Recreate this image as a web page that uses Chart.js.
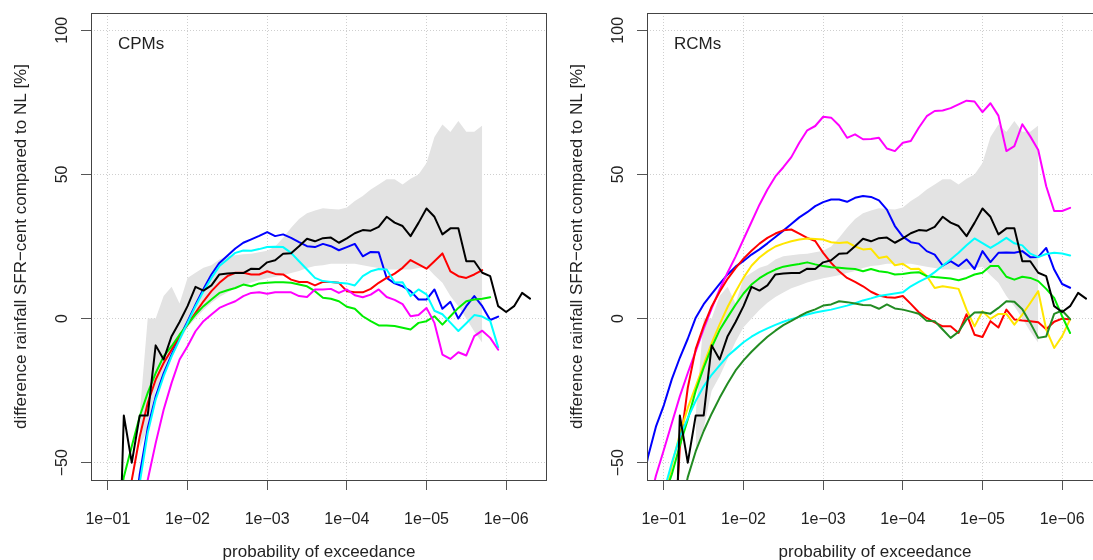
<!DOCTYPE html>
<html>
<head>
<meta charset="utf-8">
<script src="https://cdn.jsdelivr.net/npm/chart.js@4.4.1/dist/chart.umd.min.js"></script>
<style>
    html, body { margin: 0; padding: 0; background: #fff; overflow: hidden; width: 1093px; height: 560px; }
    .panel { position: absolute; top: 0; width: 560px; height: 560px; }
    #leftPanel { left: 0; }
    #rightPanel { left: 556px; }
</style>
</head>
<body>
<div class="panel" id="leftPanel"><canvas id="cpmChart" width="560" height="560"></canvas></div>
<div class="panel" id="rightPanel"><canvas id="rcmChart" width="560" height="560"></canvas></div>
<script>
// --- Data (values in %, x = log10 of probability of exceedance) ---

const logP = [
    -0.7, -0.8, -0.9,
    -1.0, -1.1, -1.2, -1.3, -1.4, -1.5, -1.6, -1.7, -1.8, -1.9,
    -2.0, -2.1, -2.2, -2.3, -2.4, -2.5, -2.6, -2.7, -2.8, -2.9,
    -3.0, -3.1, -3.2, -3.3, -3.4, -3.5, -3.6, -3.7, -3.8, -3.9,
    -4.0, -4.1, -4.2, -4.3, -4.4, -4.5, -4.6, -4.7, -4.8, -4.9,
    -5.0, -5.1, -5.2, -5.3, -5.4, -5.5, -5.6, -5.7, -5.8, -5.9,
    -6.0, -6.1, -6.2, -6.3
];

const xTickVals = [1e-1, 1e-2, 1e-3, 1e-4, 1e-5, 1e-6];
const xTickLabels = ['1e\u221201', '1e\u221202', '1e\u221203', '1e\u221204', '1e\u221205', '1e\u221206'];
const yTickVals = [-50, 0, 50, 100];
const yTickLabels = ['\u221250', '0', '50', '100'];

const xTitle = 'probability of exceedance';
const yTitle = 'difference rainfall SFR\u2212cent compared to NL [%]';

// observations (same in both panels)
const obsBlack = [
    null, null, null,
    null, -125, -33.6, -50, -33.6, -33.6, -9.3, -14.2, -6.1, -1.2,
    4.3, 11.0, 9.7, 11.5, 15.3, 15.6, 15.8, 15.8, 17.3, 17.2,
    19.5, 20.2, 22.5, 22.7, 25.1, 27.7, 26.8, 27.9, 28.1, 26.3,
    27.8, 29.6, 30.7, 30.5, 31.8, 35.3, 33.3, 32.1, 28.6, 33.2,
    38.2, 35.3, 29.2, 31.3, 31.3, 19.9, 19.9, 15.9, 14.7, 4.3,
    2.3, 4.3, 8.9, 6.9
];
const bandHigh = [
    null, null, null,
    null, null, null, null, -33, 0, 0, 7.8, 11.0, 5.2,
    14.1, 15.9, 17.6, 18.5, 20.5, 21.6, 22.0, 22.3, 22.5, 23.0,
    23.5, 25.0, 28.0, 31.5, 34.5, 36.5, 37.5, 38.3, 38.0, 37.8,
    38.5, 40.8, 42.5, 44.8, 46.5, 48.3, 48.3, 46.5, 48.5, 50.0,
    54.0, 63.0, 67.3, 64.7, 68.5, 64.8, 64.8, 67.0, null, null,
    null, null, null, null
];
const bandLow = [
    null, null, null,
    null, null, null, null, -45, -38, -25, -20, -14, -8,
    -3, 0, 3, 5.5, 7.5, 9, 10.5, 11.5, 12.5, 13.3,
    14, 14.5, 15, 15.8, 16.5, 17.5, 18.2, 18.5, 19, 19,
    19, 19, 18.5, 18, 17.5, 17, 17, 17, 17, 17.5,
    18, 15, 12.4, 7.8, 4.3, 0, -4.5, -8.4, null, null,
    null, null, null, null
];

// CPMs
const cpmBlue = [
    null, null, null,
    null, null, null, -75, -54, -38, -27, -19, -12.5, -6.5,
    -1, 4.8, 10.3, 15.3, 19.3, 21.8, 24.3, 26.3, 27.5, 28.7,
    30.0, 28.6, 29.2, 28.0, 26.5, 25.1, 24.8, 25.9, 25.1, 23.7,
    24.8, 25.9, 21.6, 23.1, 23.0, 14.1, 12.2, 11.2, 9.5, 6.6,
    6.6, 10.1, 3.4, 5.8, 0.0, 4.3, 7.8, 4.3, -0.5, 0.7,
    null, null, null, null
];
const cpmRed = [
    null, null, null,
    null, null, -78, -56, -40.9, -29.3, -21.2, -15.4, -10.8, -6.1,
    -2.1, 2.0, 6.0, 9.5, 12.4, 14.7, 15.9, 15.9, 15.3, 15.3,
    16.4, 15.5, 15.3, 13.5, 12.7, 12.7, 11.5, 12.7, 12.7, 12.4,
    9.5, 9.1, 9.1, 10.3, 12.4, 14.1, 15.6, 17.6, 20.3, 18.8,
    17.3, 19.9, 22.6, 16.4, 14.7, 14.1, 15.3, 16.8, null, null,
    null, null, null, null
];
const cpmGreen = [
    null, null, null,
    null, -70, -55, -44.3, -33.9, -25.8, -18.9, -13.1, -9.6, -5.6,
    -2.1, 1.4, 4.3, 6.6, 8.9, 9.8, 10.6, 11.8, 11.2, 12.2,
    12.4, 12.6, 12.6, 12.4, 11.8, 11.2, 9.5, 7.2, 6.9, 6.0,
    4.1, 3.4, 0.8, -0.9, -2.4, -2.4, -2.6, -3.2, -3.8, -1.5,
    -0.9, 0.8, -2.1, 0.8, 3.7, 6.0, 6.6, 6.9, 7.4, null,
    null, null, null, null
];
const cpmCyan = [
    null, null, null,
    null, null, null, -80, -57, -39.7, -28.1, -20.0, -13.1, -7.3,
    -1.5, 4.3, 9.5, 14.1, 18.2, 20.5, 22.8, 23.6, 23.5, 24.1,
    24.8, 24.9, 24.8, 22.8, 19.9, 17.0, 14.1, 13.0, 12.7, 12.4,
    12.2, 11.5, 14.7, 16.4, 17.2, 17.0, 12.5, 12.6, 7.8, 10.1,
    8.4, 2.7, 1.5, -1.4, -4.3, -1.6, 1.2, 0.7, -0.8, -10.0,
    null, null, null, null
];
const cpmMagenta = [
    null, null, null,
    null, null, null, null, -80, -56, -43.2, -31.6, -22.3, -14.2,
    -9.6, -4.4, -0.9, 1.4, 3.7, 4.9, 6.0, 7.8, 8.9, 9.1,
    8.6, 9.1, 9.1, 9.1, 7.8, 7.5, 10.1, 10.1, 10.3, 8.9,
    10.1, 8.1, 7.4, 8.3, 10.1, 7.5, 6.5, 5.0, 0.8, 1.2,
    3.7, -1.5, -12.5, -14.0, -11.7, -12.8, -6.1, -4.2, -6.7, -10.8,
    null, null, null, null
];

// RCMs
const rcmBlue = [
    -62, -48, -37.5,
    -30, -21, -13.6, -7, 0.3, 5.0, 8.6, 12.0, 15.3, 18.0,
    20.0, 22.2, 24.0, 26.1, 28.3, 30.5, 32.8, 35.1, 36.9, 39.0,
    40.4, 41.3, 41.3, 40.5, 41.9, 42.5, 42.2, 41.0, 37.8, 32.1,
    28.4, 26.5, 26.0, 23.4, 22.2, 18.4, 19.9, 18.2, 20.5, 17.2,
    23.4, 19.6, 22.8, 22.9, 22.8, 23.4, 21.3, 21.4, 24.5, 17.0,
    12.0, 10.7, null, null
];
const rcmMagenta = [
    null, -66, -54.5,
    -45.5, -36.2, -27.0, -18.9, -11.3, -3.5, 3.5, 10.1, 16.0, 21.5,
    27.5, 33.5, 39.5, 44.8, 49.3, 52.5, 56.0, 61.0, 65.3, 66.8,
    70.0, 69.7, 67.0, 62.7, 63.9, 62.2, 62.3, 62.7, 59.0, 58.1,
    61.0, 61.6, 66.2, 70.2, 72.0, 72.2, 73.0, 74.3, 75.6, 75.3,
    71.6, 74.7, 70.4, 58.1, 59.8, 67.4, 63.2, 58.5, 45.9, 37.3,
    37.3, 38.4, null, null
];
const rcmRed = [
    null, null, null,
    null, -90, -45, -24, -10.5, -2.5, 4.2, 9.3, 13.8, 17.5,
    20.8, 23.5, 26.0, 28.0, 29.5, 30.6, 30.9, 29.5, 28.0, 26.9,
    22.8, 19.3, 16.4, 14.1, 12.7, 11.2, 9.3, 8.0, 7.4, 7.2,
    7.8, 5.1, 2.2, 0.2, -1.3, -2.7, -2.7, -5.0, 1.5, -5.6,
    -6.4, -0.9, -3.1, 3.1, -0.3, -0.7, -0.9, -1.3, -3.7, -1.1,
    0.0, -0.3, null, null
];
const rcmYellow = [
    null, null, null,
    -64, -51, -40, -31, -23.5, -16, -8.5, -2, 4, 9.3,
    14.2, 18.3, 21.2, 23.3, 25.0, 26.0, 26.8, 27.4, 27.8, 27.6,
    27.4, 26.5, 26.2, 26.5, 25.0, 24.0, 24.2, 21.0, 21.5, 18.5,
    19.0, 17.2, 17.3, 14.8, 10.6, 11.2, 10.8, 10.3, 3.1, -2.7,
    2.5, -0.1, 1.6, 1.6, -2.1, 1.4, 5.4, 9.5, -3.8, -10.2,
    -6.1, -0.3, null, null
];
const rcmGreen = [
    null, null, null,
    -62, -54, -44, -35, -25, -17, -10, -4, 0.5, 4.8,
    8.7, 11.8, 14.0, 15.7, 17.0, 18.0, 18.5, 18.9, 19.5, 18.8,
    18.2, 17.8, 17.6, 17.4, 17.2, 16.4, 17.2, 16.4, 16.1, 15.3,
    15.5, 15.9, 16.1, 14.7, 14.4, 14.2, 13.9, 13.3, 14.1, 15.3,
    15.9, 18.2, 18.2, 14.5, 13.5, 14.5, 14.1, 13.0, 10.3, 7.2,
    0.8, -5.0, null, null
];
const rcmCyan = [
    null, null, -70,
    -60, -50, -41, -34.5, -28.5, -23.5, -19.5, -16.2, -13.0, -10.6,
    -8.2, -6.3, -4.7, -3.4, -2.2, -1.1, -0.2, 0.6, 1.4, 2.1,
    2.6, 3.1, 3.8, 4.5, 5.3, 6.3, 7.0, 7.8, 8.3, 8.7,
    9.1, 11.2, 12.7, 14.1, 16.1, 18.3, 20.5, 22.8, 25.4, 27.8,
    26.2, 24.5, 26.2, 28.0, 26.1, 25.4, 22.5, 21.3, 22.4, 22.8,
    22.6, 21.9, null, null
];
const rcmDarkGreen = [
    null, null, null,
    null, null, -68, -55, -46, -39, -33, -27.5, -22.5, -18,
    -14.5, -11.5, -8.8, -6.3, -4.2, -2.3, -0.8, 0.8, 2.2, 3.2,
    4.5, 4.9, 6.0, 5.7, 5.2, 4.7, 4.6, 3.4, 4.9, 3.5,
    3.1, 2.4, 1.7, -0.8, -0.9, -3.8, -6.7, -4.6, -0.3, 2.1,
    2.2, 1.7, 3.7, 6.0, 5.8, 3.2, -1.5, -6.7, -6.2, 1.6,
    2.8, -0.2, null, null
];

// --- Chart helpers ---

const FONT = '"Liberation Sans", Arial, Helvetica, sans-serif';
const TEXT_COLOR = '#222';

function toPoints(vals) {
    return vals.map((v, i) => ({ x: Math.pow(10, logP[i]), y: v }));
}

// box, rotated y tick labels, axis titles and panel tag, R style
const panelDecor = {
    id: 'panelDecor',
    afterDraw(chart, args, opts) {
        const { ctx, chartArea: a } = chart;
        const yScale = chart.scales.y;
        ctx.save();
        ctx.strokeStyle = '#444';
        ctx.lineWidth = 1;
        ctx.strokeRect(a.left + 0.5, a.top + 0.5, a.right - a.left - 1, a.bottom - a.top);

        ctx.fillStyle = TEXT_COLOR;
        ctx.textAlign = 'center';
        ctx.textBaseline = 'middle';
        ctx.font = '16px ' + FONT;
        yTickVals.forEach((v, i) => {
            ctx.save();
            ctx.translate(63, yScale.getPixelForValue(v));
            ctx.rotate(-Math.PI / 2);
            ctx.fillText(yTickLabels[i], 0, 0);
            ctx.restore();
        });

        ctx.font = '17px ' + FONT;
        ctx.textBaseline = 'alphabetic';
        ctx.fillText(xTitle, (a.left + a.right) / 2, 557);

        ctx.save();
        ctx.translate(26, (a.top + a.bottom) / 2);
        ctx.rotate(-Math.PI / 2);
        ctx.fillText(yTitle, 0, 0);
        ctx.restore();

        ctx.textAlign = 'left';
        ctx.textBaseline = 'middle';
        ctx.fillText(opts.label, a.left + 27, 44);
        ctx.restore();
    }
};

function makePanel(canvasId, label, models) {
    const datasets = [];

    datasets.push({
        data: toPoints(obsBlack),
        borderColor: '#000',
        borderWidth: 2,
        order: 0
    });

    models.forEach((m, i) => {
        datasets.push({
            data: toPoints(m.values),
            borderColor: m.color,
            borderWidth: 2,
            order: models.length - i
        });
    });

    // grey envelope: lower edge, then upper edge filled down to it
    datasets.push({
        data: toPoints(bandLow),
        borderColor: 'rgba(0,0,0,0)',
        borderWidth: 0,
        fill: false,
        order: 98
    });
    datasets.push({
        data: toPoints(bandHigh),
        borderColor: 'rgba(0,0,0,0)',
        borderWidth: 0,
        backgroundColor: '#e3e3e3',
        fill: '-1',
        order: 99
    });

    const gridStyle = {
        color: '#cfcfcf',
        lineWidth: 1,
        tickLength: 10,
        tickColor: '#555',
        tickWidth: 1
    };

    return new Chart(document.getElementById(canvasId), {
        type: 'line',
        data: { datasets: datasets },
        options: {
            responsive: false,
            animation: false,
            events: [],
            layout: { autoPadding: false, padding: { left: 0, right: 13, top: 13, bottom: 0 } },
            elements: {
                point: { radius: 0, hoverRadius: 0 },
                line: { tension: 0, borderCapStyle: 'round', borderJoinStyle: 'round' }
            },
            scales: {
                x: {
                    type: 'logarithmic',
                    reverse: true,
                    min: Math.pow(10, -6.513),
                    max: Math.pow(10, -0.788),
                    grid: gridStyle,
                    border: { display: false, dash: [1, 2] },
                    ticks: {
                        autoSkip: false,
                        maxRotation: 0,
                        padding: 20,
                        color: TEXT_COLOR,
                        font: { family: FONT, size: 16 },
                        callback: (value, index) => xTickLabels[index]
                    },
                    afterBuildTicks: (scale) => {
                        scale.ticks = xTickVals.map(v => ({ value: v }));
                    },
                    afterFit: (scale) => {
                        scale.height = 80;
                        scale.paddingLeft = 0;
                        scale.paddingRight = 0;
                    }
                },
                y: {
                    type: 'linear',
                    min: -56,
                    max: 106,
                    grid: gridStyle,
                    border: { display: false, dash: [1, 2] },
                    ticks: { display: false },
                    afterBuildTicks: (scale) => {
                        scale.ticks = yTickVals.map(v => ({ value: v }));
                    },
                    afterFit: (scale) => {
                        scale.width = 91;
                        scale.paddingTop = 0;
                        scale.paddingBottom = 0;
                    }
                }
            },
            plugins: {
                legend: { display: false },
                tooltip: { enabled: false },
                panelDecor: { label: label }
            }
        },
        plugins: [panelDecor]
    });
}

makePanel('cpmChart', 'CPMs', [
    { values: cpmBlue, color: '#0000ff' },
    { values: cpmRed, color: '#ff0000' },
    { values: cpmGreen, color: '#00ee00' },
    { values: cpmCyan, color: '#00ffff' },
    { values: cpmMagenta, color: '#ff00ff' }
]);

makePanel('rcmChart', 'RCMs', [
    { values: rcmBlue, color: '#0000ff' },
    { values: rcmMagenta, color: '#ff00ff' },
    { values: rcmRed, color: '#ff0000' },
    { values: rcmYellow, color: '#ffe600' },
    { values: rcmGreen, color: '#00ee00' },
    { values: rcmCyan, color: '#00ffff' },
    { values: rcmDarkGreen, color: '#228b22' }
]);
</script>
</body>
</html>
